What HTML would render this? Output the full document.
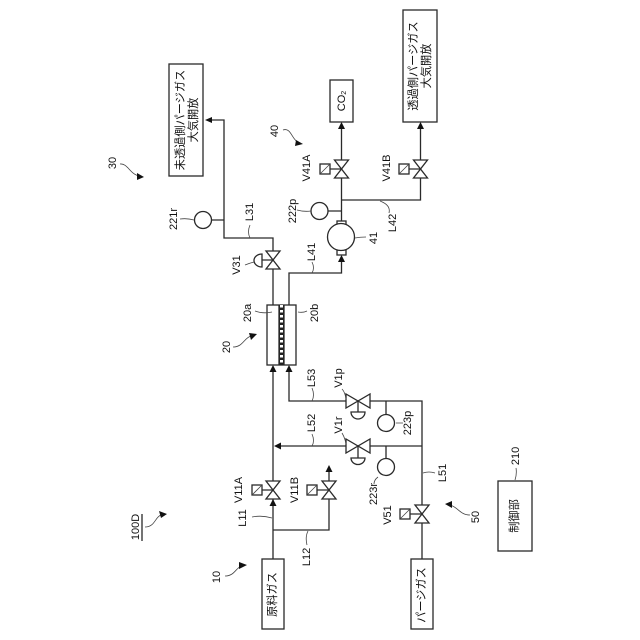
<!DOCTYPE html>
<html><head><meta charset="utf-8"><style>
html,body{margin:0;padding:0;background:#fff}
svg{display:block}
text{font-family:"Liberation Sans","Noto Sans CJK JP",sans-serif;font-size:11px;fill:#111;text-anchor:middle;dominant-baseline:central}
.j{font-size:11.2px}
.l{fill:none;stroke:#2a2a2a;stroke-width:1.3}
.t{fill:none;stroke:#444;stroke-width:.8}
.a{fill:#111;stroke:none}
.b{fill:#fff;stroke:#2a2a2a;stroke-width:1.3}
</style></head><body>
<svg width="640" height="640" viewBox="0 0 640 640" xmlns="http://www.w3.org/2000/svg">
<defs>
<g id="vv"><path class="b" d="M-7,-9L7,-9L-7,9L7,9Z"/></g>
<g id="vh"><path class="b" d="M-12,-7L-12,7L12,-7L12,7Z"/></g>
<g id="sq"><rect class="b" x="-5" y="-5" width="10" height="10"/><path class="t" d="M-5,5L5,-5"/></g>
</defs>

<!-- pipes -->
<path class="l" d="M273,559V372M273,305V238H224V120H208"/>
<path class="l" d="M289,305V273H341.500V258"/>
<path class="l" d="M341.500,221V128M341.500,200H420.500V128"/>
<path class="l" d="M273,530H329V471"/>
<path class="l" d="M422,559V401H289V372"/>
<path class="l" d="M422,446H281"/>
<path class="l" d="M212,220H224M328,211H341.500"/>
<path class="l" d="M386,401V415M386,446V459"/>
<path class="l" d="M358,401V412M358,446V458"/>

<!-- arrowheads -->
<path class="a" d="M205,120L212,117V123Z"/>
<path class="a" d="M341.500,122L338,129H345Z"/>
<path class="a" d="M420.500,122L417,129H424Z"/>
<path class="a" d="M341.500,255L338,262H345Z"/>
<path class="a" d="M273,365L269.500,372H276.500Z"/>
<path class="a" d="M289,365L285.500,372H292.500Z"/>
<path class="a" d="M274,446L281,442.500V449.500Z"/>
<path class="a" d="M273,499L269.500,506H276.500Z"/>
<path class="a" d="M329,465L325.500,472H332.500Z"/>

<!-- boxes -->
<rect class="b" x="169" y="64" width="34" height="112"/>
<rect class="b" x="330" y="80" width="23" height="42"/>
<rect class="b" x="403" y="10" width="34" height="112"/>
<rect class="b" x="262" y="559" width="22" height="70"/>
<rect class="b" x="411" y="559" width="22" height="70"/>
<rect class="b" x="498" y="481" width="34" height="70"/>

<!-- membrane -->
<rect class="b" x="267" y="305" width="29" height="60"/>
<rect x="279" y="305" width="5" height="60" fill="#222"/>
<path d="M281.500,305V365" stroke="#fff" stroke-width="3" stroke-dasharray="2.500 2.500" fill="none"/>
<path class="l" d="M279,305V365M284,305V365"/>

<!-- valves -->
<use href="#vv" x="273" y="260"/>
<path class="b" d="M262,254A8,6.500 0 0 0 262,267Z"/>
<use href="#vv" x="341.500" y="169"/><use href="#sq" x="325" y="169"/>
<use href="#vv" x="420.500" y="169"/><use href="#sq" x="404" y="169"/>
<use href="#vv" x="273" y="490"/><use href="#sq" x="257" y="490"/>
<use href="#vv" x="329" y="490"/><use href="#sq" x="312" y="490"/>
<use href="#vv" x="422" y="514"/><use href="#sq" x="405" y="514"/>
<use href="#vh" x="358" y="401"/>
<path class="b" d="M351,412A7,7 0 0 0 365,412Z"/>
<use href="#vh" x="358" y="446"/>
<path class="b" d="M351,458A7,6.500 0 0 0 365,458Z"/>

<!-- valve stems, on top of the valve bodies -->
<path class="l" d="M262,260H273M330,169H341.500M409,169H420.500M262,490H273M317,490H329M410,514H422"/>

<!-- gauges and pump -->
<circle class="b" cx="203" cy="220" r="8.500"/>
<circle class="b" cx="319.500" cy="211" r="8.500"/>
<circle class="b" cx="386" cy="423" r="8.500"/>
<circle class="b" cx="386" cy="467" r="8.500"/>
<rect class="b" x="337" y="221" width="9" height="4"/>
<rect class="b" x="337" y="250" width="9" height="5"/>
<circle class="b" cx="341" cy="237" r="13.500"/>

<!-- leaders -->
<path class="t" d="M180,219Q187,218 194,220M297,210Q304,212 311,211M250,238Q247,232 250,225M245,265Q250,263 254,262"/>
<path class="t" d="M312,273Q315,268 312,262M355,238Q360,237 366,237M380,201Q391,205 389,213"/>
<path class="t" d="M255,311Q263,314 272,312M298,312Q303,313 307,311M312,401Q315,395 312,388M312,446Q315,441 312,434"/>
<path class="t" d="M346,399Q345,392 342,389M346,444Q345,438 342,433M378,477Q374,480 374,484M403,423H396"/>
<path class="t" d="M272,518Q262,515 252,517M308,531Q305,537 307,545M423,473Q429,471 435,473M515,480Q517,474 516,468"/>

<!-- squiggle arrows -->
<path class="t" d="M120,164C128,163 130,175 140,176"/><path class="a" d="M144,177L137,173V180Z"/>
<path class="t" d="M283,130C291,127 292,140 298,142"/><path class="a" d="M303,144L296,140L295,146Z"/>
<path class="t" d="M233,347C243,347 244,338 251,336"/><path class="a" d="M257,334L249,333L251,340Z"/>
<path class="t" d="M225,576C235,576 236,567 242,566"/><path class="a" d="M247,565L239,562V569Z"/>
<path class="t" d="M470,515C460,515 458,507 450,505"/><path class="a" d="M445,504L452,501V508Z"/>
<path class="t" d="M145,527C155,527 155,517 161,515"/><path class="a" d="M167,514L159,511L161,518Z"/>
<path class="l" d="M142,514V541"/>

<!-- rotated labels -->
<g>
<text class="j" transform="translate(186,120) rotate(-90)"><tspan x="0" y="-5">未透過側パージガス</tspan><tspan x="0" y="8">大気開放</tspan></text>
<text class="j" transform="translate(420,66) rotate(-90)"><tspan x="0" y="-6">透過側パージガス</tspan><tspan x="0" y="7">大気開放</tspan></text>
<text transform="translate(342,101) rotate(-90)">CO<tspan font-size="7" dy="2">2</tspan></text>
<text class="j" transform="translate(273,594.500) rotate(-90)">原料ガス</text>
<text class="j" transform="translate(422,595) rotate(-90)">パージガス</text>
<text class="j" transform="translate(515,516) rotate(-90)">制御部</text>

<text transform="translate(113,163) rotate(-90)">30</text>
<text transform="translate(275,131) rotate(-90)">40</text>
<text transform="translate(227,347) rotate(-90)">20</text>
<text transform="translate(217,577) rotate(-90)">10</text>
<text transform="translate(476,517) rotate(-90)">50</text>
<text transform="translate(136,527) rotate(-90)">100D</text>
<text transform="translate(516,456) rotate(-90)">210</text>

<text transform="translate(174,219) rotate(-90)">221r</text>
<text transform="translate(293,211) rotate(-90)">222p</text>
<text transform="translate(408,423) rotate(-90)">223p</text>
<text transform="translate(374,494) rotate(-90)">223r</text>
<text transform="translate(374,238) rotate(-90)">41</text>

<text transform="translate(250,212) rotate(-90)">L31</text>
<text transform="translate(312,252) rotate(-90)">L41</text>
<text transform="translate(393,223) rotate(-90)">L42</text>
<text transform="translate(312,378) rotate(-90)">L53</text>
<text transform="translate(312,423) rotate(-90)">L52</text>
<text transform="translate(443,473) rotate(-90)">L51</text>
<text transform="translate(243,518) rotate(-90)">L11</text>
<text transform="translate(307,557) rotate(-90)">L12</text>

<text transform="translate(237,265) rotate(-90)">V31</text>
<text transform="translate(307,168) rotate(-90)">V41A</text>
<text transform="translate(387,168) rotate(-90)">V41B</text>
<text transform="translate(339,378) rotate(-90)">V1p</text>
<text transform="translate(339,425) rotate(-90)">V1r</text>
<text transform="translate(239,490) rotate(-90)">V11A</text>
<text transform="translate(295,490) rotate(-90)">V11B</text>
<text transform="translate(388,515) rotate(-90)">V51</text>

<text transform="translate(248,313) rotate(-90)">20a</text>
<text transform="translate(315,313) rotate(-90)">20b</text>
</g>
</svg>
</body></html>
